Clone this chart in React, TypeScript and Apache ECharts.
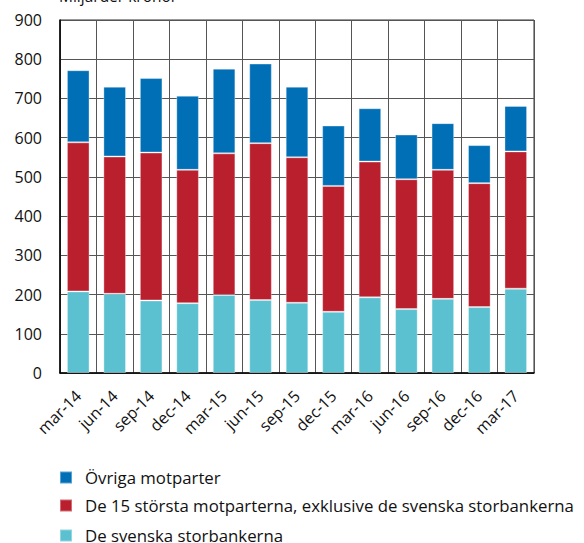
import React, { useEffect, useRef } from "react";
import * as echarts from "echarts";

const categories = ["mar-14", "jun-14", "sep-14", "dec-14", "mar-15", "jun-15", "sep-15", "dec-15", "mar-16", "jun-16", "sep-16", "dec-16", "mar-17"];
const svenskaStorbankerna = [208, 202, 185, 178, 199, 186, 179, 156, 193, 163, 189, 168, 215];
const femtonStorsta = [380, 350, 377, 340, 361, 400, 371, 321, 346, 331, 329, 316, 350];
const ovrigaMotparter = [184, 178, 190, 189, 216, 203, 180, 154, 136, 114, 119, 97, 116];
const seriesNames = ["Övriga motparter", "De 15 största motparterna, exklusive de svenska storbankerna", "De svenska storbankerna"];
const yTitle = "Miljarder kronor";

const FONT = "Open Sans";
const legendTops = [464, 492, 522];

export default function App() {
  const ref = useRef<HTMLDivElement>(null);
  useEffect(() => {
    if (!ref.current) return;
    const chart = echarts.init(ref.current, undefined, { renderer: "svg" });
    const barBorder = { borderColor: "rgba(255,255,255,0.35)", borderWidth: 1 };
    chart.setOption({
      animation: false,
      backgroundColor: "#ffffff",
      textStyle: { fontFamily: FONT },
      grid: { left: 60, right: 50, top: 20, bottom: 170, show: true, borderColor: "#333", borderWidth: 1 },
      graphic: [
        { type: "text", left: 59, top: -12, style: { text: yTitle, fontFamily: FONT, fontSize: 15.5, fill: "#111" } },
      ],
      legend: seriesNames.map((name, i) => ({
        orient: "vertical",
        left: 54,
        top: legendTops[i],
        itemWidth: 12,
        itemHeight: 12,
        icon: "rect",
        data: [name],
        textStyle: { fontFamily: FONT, fontSize: 16.8, lineHeight: 16, color: "#111", padding: [0, 0, 0, 8] },
      })),
      xAxis: {
        type: "category",
        data: categories,
        axisLine: { show: true, lineStyle: { color: "#000", width: 1.5 } },
        axisTick: { show: false },
        splitLine: { show: true, interval: 0, lineStyle: { color: "#555", width: 1 } },
        axisLabel: { interval: 0, rotate: 45, margin: 20, fontFamily: FONT, fontSize: 16, color: "#111" },
      },
      yAxis: {
        type: "value",
        min: 0,
        max: 900,
        interval: 100,
        axisLine: { show: true, lineStyle: { color: "#000", width: 1.5 } },
        axisTick: { show: false },
        splitLine: { show: true, lineStyle: { color: "#555", width: 1 } },
        axisLabel: { margin: 18, fontFamily: FONT, fontSize: 16, color: "#111" },
      },
      series: [
        { name: seriesNames[2], type: "bar", stack: "a", data: svenskaStorbankerna, barCategoryGap: "38%", itemStyle: { color: "#5BC1D0", ...barBorder } },
        { name: seriesNames[1], type: "bar", stack: "a", data: femtonStorsta, itemStyle: { color: "#B91F2D", ...barBorder } },
        { name: seriesNames[0], type: "bar", stack: "a", data: ovrigaMotparter, itemStyle: { color: "#006FB6", ...barBorder } },
      ],
    });
    return () => chart.dispose();
  }, []);
  return <div ref={ref} style={{ position: "fixed", left: 0, top: 0, width: 584, height: 543 }} />;
}
